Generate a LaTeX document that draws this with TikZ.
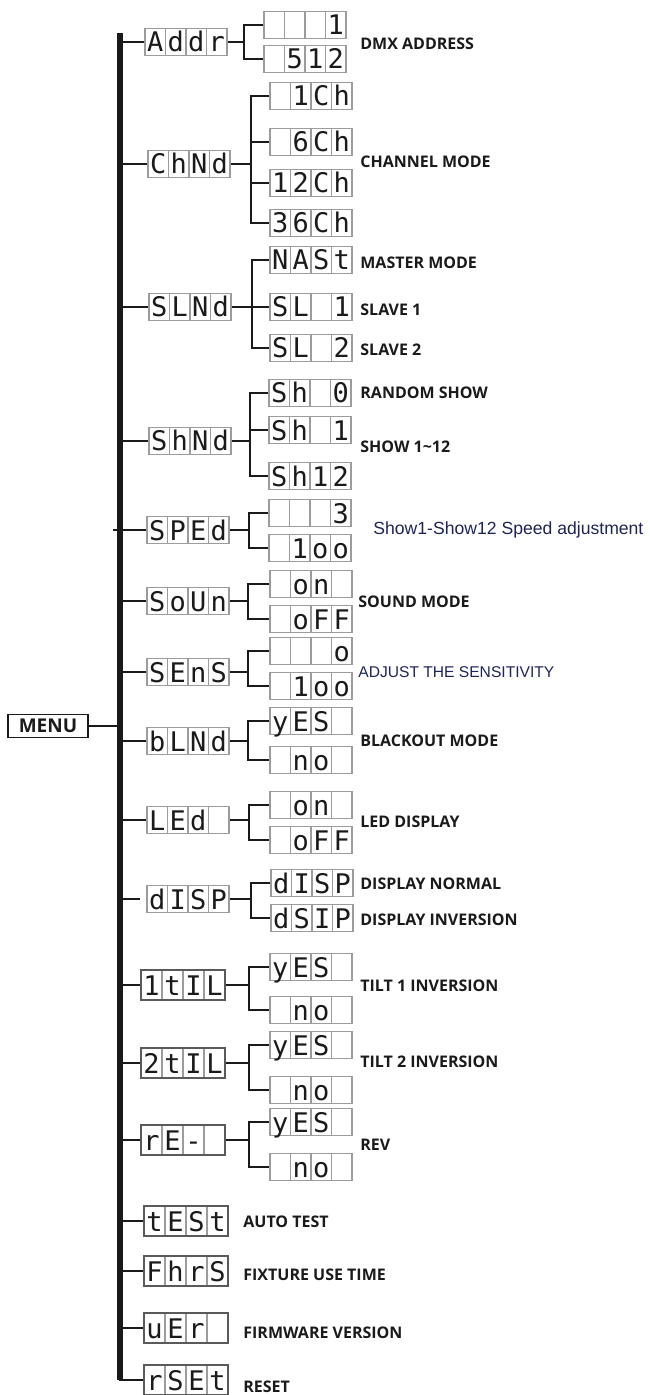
\documentclass[tikz,border=0pt]{standalone}
\usepackage{fontspec}
\usetikzlibrary{calc}
\newfontfamily\labelfont{Open Sans}
\newfontfamily\notefont{Liberation Sans}
\newfontfamily\segfont{DejaVu Sans Mono}
\definecolor{cellC}{HTML}{9C9C9C}
\definecolor{cellDark}{HTML}{5A5A5A}
\definecolor{inkC}{HTML}{1A1A1A}
\definecolor{noteC}{HTML}{1E2456}
\def\lwSpine{2.6pt}
\def\lwBranch{1.0pt}
\def\lwCell{0.7pt}
\def\spineX{120}
\def\lcdcw{10.25pt}
\newcommand\cells[4]{\makebox[\lcdcw]{#1}\makebox[\lcdcw]{#2}\makebox[\lcdcw]{#3}\makebox[\lcdcw]{#4}}

\tikzset{
  lcd/.style={draw=cellC, line width=\lwCell, inner sep=0pt,
    minimum width=41pt, minimum height=13.5pt, text height=10pt, text depth=0pt,
    text=inkC, font=\segfont\fontsize{13.5}{14}\selectfont,
    path picture={
      \foreach \k in {1,2,3}
        \draw[cellC, line width=\lwCell]
          ($(path picture bounding box.north west)!\k/4!(path picture bounding box.north east)$)
          -- ($(path picture bounding box.south west)!\k/4!(path picture bounding box.south east)$);
    }},
  lcdbig/.style={lcd, draw=cellDark, minimum width=42pt, minimum height=15pt,
    execute at begin node={\def\lcdcw{10.5pt}}},
  menubox/.style={draw=inkC, line width=0.8pt, inner sep=0pt, minimum width=40pt,
    minimum height=11.5pt, text=inkC, font=\labelfont\bfseries\fontsize{9.5}{10}\selectfont},
  branch/.style={inkC, line width=\lwBranch},
  spine/.style={inkC, line width=\lwSpine},
  lbl/.style={anchor=west, inner sep=0pt, text=inkC, font=\labelfont\bfseries\fontsize{8}{9}\selectfont},
  note/.style={anchor=west, inner sep=0pt, text=noteC, font=\notefont\fontsize{8.8}{10}\selectfont}
}

\begin{document}
\begin{tikzpicture}[x=0.5pt, y=-0.5pt, line cap=butt, line join=miter]
  \useasboundingbox (0,0) rectangle (649,1395);

  % Spine and menu entry
  \coordinate (sptop) at (\spineX,33);
  \coordinate (spbot) at (\spineX,1380);
  \node[menubox] (menu) at (48,726) {MENU};

  % Main menu displays
  \node[lcd] (addr) at (186,42)  {\cells{A}{d}{d}{r}};
  \node[lcd] (chnd) at (189,164) {\cells{C}{h}{N}{d}};
  \node[lcd] (slnd) at (190,307) {\cells{S}{L}{N}{d}};
  \node[lcd] (shnd) at (190,441) {\cells{S}{h}{N}{d}};
  \node[lcd] (sped) at (188,530) {\cells{S}{P}{E}{d}};
  \node[lcd] (soun) at (188,601) {\cells{S}{o}{U}{n}};
  \node[lcd] (sens) at (188,672) {\cells{S}{E}{n}{S}};
  \node[lcd] (blnd) at (188,741) {\cells{b}{L}{N}{d}};
  \node[lcd] (led)  at (188,820) {\cells{L}{E}{d}{}};
  \node[lcd] (disp) at (188,899) {\cells{d}{I}{S}{P}};
  \node[lcdbig] (tilA) at (183,985)  {\cells{1}{t}{I}{L}};
  \node[lcdbig] (tilB) at (183,1063) {\cells{2}{t}{I}{L}};
  \node[lcdbig] (rev)  at (183,1140) {\cells{r}{E}{-}{}};
  \node[lcdbig] (test) at (186,1221) {\cells{t}{E}{S}{t}};
  \node[lcdbig] (fhrs) at (186,1271) {\cells{F}{h}{r}{S}};
  \node[lcdbig] (uer)  at (186,1328) {\cells{u}{E}{r}{}};
  \node[lcdbig] (rset) at (186,1380) {\cells{r}{S}{E}{t}};

  % Sub displays
  \node[lcd] (addrA) at (305,25)  {\cells{}{}{}{1}};
  \node[lcd] (addrB) at (305,59)  {\cells{}{5}{1}{2}};
  \node[lcd] (chA) at (311,96)  {\cells{}{1}{C}{h}};
  \node[lcd] (chB) at (311,142) {\cells{}{6}{C}{h}};
  \node[lcd] (chC) at (311,183) {\cells{1}{2}{C}{h}};
  \node[lcd] (chD) at (311,223) {\cells{3}{6}{C}{h}};
  \node[lcd] (slA) at (311,260) {\cells{N}{A}{S}{t}};
  \node[lcd] (slB) at (311,307) {\cells{S}{L}{}{1}};
  \node[lcd] (slC) at (311,348) {\cells{S}{L}{}{2}};
  \node[lcd] (shA) at (310,393) {\cells{S}{h}{}{0}};
  \node[lcd] (shB) at (310,430) {\cells{S}{h}{}{1}};
  \node[lcd] (shC) at (310,476) {\cells{S}{h}{1}{2}};
  \node[lcd] (spA) at (310,513) {\cells{}{}{}{3}};
  \node[lcd] (spB) at (310,548) {\cells{}{1}{o}{o}};
  \node[lcd] (soA) at (311,584) {\cells{}{o}{n}{}};
  \node[lcd] (soB) at (311,619) {\cells{}{o}{F}{F}};
  \node[lcd] (seA) at (311,651) {\cells{}{}{}{o}};
  \node[lcd] (seB) at (311,686) {\cells{}{1}{o}{o}};
  \node[lcd] (blA) at (311,721) {\cells{y}{E}{S}{}};
  \node[lcd] (blB) at (311,760) {\cells{}{n}{o}{}};
  \node[lcd] (leA) at (311,805) {\cells{}{o}{n}{}};
  \node[lcd] (leB) at (311,840) {\cells{}{o}{F}{F}};
  \node[lcd] (diA) at (312,883) {\cells{d}{I}{S}{P}};
  \node[lcd] (diB) at (312,918) {\cells{d}{S}{I}{P}};
  \node[lcd] (taA) at (311,967)  {\cells{y}{E}{S}{}};
  \node[lcd] (taB) at (311,1010) {\cells{}{n}{o}{}};
  \node[lcd] (tbA) at (311,1045) {\cells{y}{E}{S}{}};
  \node[lcd] (tbB) at (311,1090) {\cells{}{n}{o}{}};
  \node[lcd] (rvA) at (311,1122) {\cells{y}{E}{S}{}};
  \node[lcd] (rvB) at (311,1167) {\cells{}{n}{o}{}};

  % Spine with branches
  \draw[spine] (sptop) -- (spbot);
  \draw[branch] (menu.east) -- (menu.east -| sptop);
  \foreach \n in {addr,chnd,slnd,shnd,soun,sens,blnd,led,tilA,tilB,rev,test,fhrs,uer}
    \draw[branch] (\n.west -| sptop) -- (\n.west);
  \draw[branch] ([xshift=-3.5pt]sped.west -| sptop) -- (sped.west);
  \draw[branch, shorten <=1.5pt, shorten >=3pt] (disp.west -| sptop) -- (disp.west);
  \draw[branch] ([xshift=-0.6pt]spbot) -- (rset.west);

  % Brackets to the settings
  \coordinate (bkA) at (244,0);
  \draw[branch] (addr.east) -- (addr.east -| bkA);
  \draw[branch] (addrA.west) -- (addrA.west -| bkA) -- (addrB.west -| bkA) -- (addrB.west);

  \coordinate (bkC) at (251,0);
  \draw[branch] (chnd.east) -- (chnd.east -| bkC);
  \draw[branch] (chA.west) -- (chA.west -| bkC) -- (chD.west -| bkC) -- (chD.west);
  \foreach \n in {chB,chC}
    \draw[branch] (\n.west -| bkC) -- (\n.west);

  \coordinate (bkS) at (252,0);
  \draw[branch] (slnd.east) -- (slnd.east -| bkS);
  \draw[branch] (slA.west) -- (slA.west -| bkS) -- (slC.west -| bkS) -- (slC.west);
  \draw[branch] (slB.west -| bkS) -- (slB.west);

  \coordinate (bkH) at (250,0);
  \draw[branch] (shnd.east) -- (shnd.east -| bkH);
  \draw[branch] (shA.west) -- (shA.west -| bkH) -- (shC.west -| bkH) -- (shC.west);
  \draw[branch] (shB.west -| bkH) -- (shB.west);

  \coordinate (bkP) at (249,0);
  \draw[branch] (sped.east) -- (sped.east -| bkP);
  \draw[branch] (spA.west) -- (spA.west -| bkP) -- (spB.west -| bkP) -- (spB.west);

  \coordinate (bkO) at (248,0);
  \draw[branch] (soun.east) -- (soun.east -| bkO);
  \draw[branch] (soA.west) -- (soA.west -| bkO) -- (soB.west -| bkO) -- (soB.west);
  \draw[branch] (sens.east) -- (sens.east -| bkO);
  \draw[branch] (seA.west) -- (seA.west -| bkO) -- (seB.west -| bkO) -- (seB.west);
  \draw[branch] (blnd.east) -- (blnd.east -| bkO);
  \draw[branch] (blA.west) -- (blA.west -| bkO) -- (blB.west -| bkO) -- (blB.west);

  \coordinate (bkL) at (249,0);
  \draw[branch] (led.east) -- (led.east -| bkL);
  \draw[branch] (leA.west) -- (leA.west -| bkL) -- (leB.west -| bkL) -- (leB.west);

  \coordinate (bkD) at (251,0);
  \draw[branch] (disp.east) -- (disp.east -| bkD);
  \draw[branch] (diA.west) -- (diA.west -| bkD) -- (diB.west -| bkD) -- (diB.west);

  \coordinate (bkT) at (249,0);
  \foreach \m/\a/\b in {tilA/taA/taB, tilB/tbA/tbB, rev/rvA/rvB} {
    \draw[branch] (\m.east) -- (\m.east -| bkT);
    \draw[branch] (\a.west) -- (\a.west -| bkT) -- (\b.west -| bkT) -- (\b.west);
  }

  % Labels
  \node[lbl] (lDmx)    at (360,44)   {DMX ADDRESS};
  \node[lbl] (lChan)   at (360,162)  {CHANNEL MODE};
  \node[lbl] (lMaster) at (360,263)  {MASTER MODE};
  \node[lbl] (lSlvA)   at (360,310)  {SLAVE 1};
  \node[lbl] (lSlvB)   at (360,350)  {SLAVE 2};
  \node[lbl] (lRand)   at (360,393)  {RANDOM SHOW};
  \node[lbl] (lShow)   at (360,447)  {SHOW 1\textasciitilde 12};
  \node[note] (lSpeed) at (373,530)  {Show1-Show12 Speed adjustment};
  \node[lbl] (lSound)  at (358,602)  {SOUND MODE};
  \node[note, font=\notefont\fontsize{7.8}{9}\selectfont] (lSens) at (358,672) {ADJUST THE SENSITIVITY};
  \node[lbl] (lBlack)  at (360,741)  {BLACKOUT MODE};
  \node[lbl] (lLed)    at (360,822)  {LED DISPLAY};
  \node[lbl] (lNorm)   at (360,884)  {DISPLAY NORMAL};
  \node[lbl] (lInv)    at (360,920)  {DISPLAY INVERSION};
  \node[lbl] (lTiltA)  at (360,986)  {TILT 1 INVERSION};
  \node[lbl] (lTiltB)  at (360,1062) {TILT 2 INVERSION};
  \node[lbl] (lRev)    at (360,1145) {REV};
  \node[lbl] (lTest)   at (243,1222) {AUTO TEST};
  \node[lbl] (lHours)  at (243,1275) {FIXTURE USE TIME};
  \node[lbl] (lFirm)   at (243,1333) {FIRMWARE VERSION};
  \node[lbl] (lReset)  at (243,1387) {RESET};
\end{tikzpicture}
\end{document}
